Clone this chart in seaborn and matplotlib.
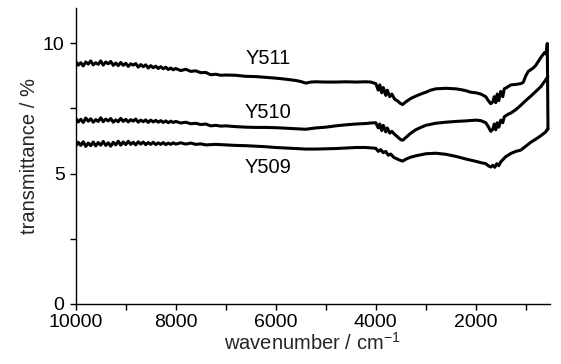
import matplotlib
matplotlib.use("Agg")
import matplotlib.pyplot as plt
from matplotlib.ticker import MultipleLocator
import seaborn as sns
import pandas as pd

# ---- data ----
wn_511 = [10000, 9950, 9900, 9850, 9800, 9750, 9700, 9650, 9600, 9550, 9500, 9450, 9400, 9350,
          9300, 9250, 9200, 9150, 9100, 9050, 9000, 8950, 8900, 8850, 8800, 8750, 8700, 8650,
          8600, 8550, 8500, 8450, 8400, 8350, 8300, 8250, 8200, 8150, 8100, 8050, 8000,
          7900, 7800, 7700, 7600, 7500, 7400, 7300, 7200, 7100, 7000, 6800,
          6600, 6400, 6200, 6000, 5800, 5600, 5500, 5400, 5300, 5200, 5000, 4800, 4600, 4400,
          4200, 4100, 4000, 3950, 3920, 3880, 3850, 3800, 3770, 3720, 3680, 3620, 3560, 3500,
          3460, 3400, 3300, 3200, 3100, 3000, 2900, 2800, 2600, 2400, 2300, 2200, 2100, 2000,
          1900, 1800, 1750, 1700, 1660, 1630, 1600, 1570, 1540, 1500, 1460, 1430, 1380, 1300,
          1200, 1100, 1050, 1000, 950, 850, 800, 700, 620, 590, 570, 556]
y_511 = [9.30, 9.16, 9.25, 9.13, 9.28, 9.20, 9.32, 9.17, 9.25, 9.19, 9.32, 9.16, 9.28, 9.21,
         9.30, 9.15, 9.24, 9.14, 9.26, 9.15, 9.23, 9.11, 9.21, 9.16, 9.22, 9.08, 9.18, 9.10,
         9.17, 9.05, 9.14, 9.06, 9.12, 9.03, 9.10, 9.02, 9.08, 8.99, 9.05, 8.98, 9.03,
         8.95, 9.00, 8.92, 8.94, 8.87, 8.88, 8.79, 8.81, 8.77, 8.78, 8.77,
         8.73, 8.72, 8.69, 8.66, 8.62, 8.57, 8.53, 8.47, 8.51, 8.52, 8.51, 8.51, 8.52, 8.51,
         8.52, 8.51, 8.45, 8.20, 8.40, 8.10, 8.30, 8.00, 8.20, 7.95, 8.05, 7.85, 7.78, 7.68,
         7.65, 7.75, 7.88, 7.97, 8.05, 8.12, 8.20, 8.25, 8.27, 8.25, 8.22, 8.18, 8.12, 8.10,
         8.05, 7.95, 7.80, 7.68, 7.75, 7.95, 7.72, 8.05, 7.80, 8.15, 7.95, 8.25, 8.30, 8.40,
         8.42, 8.45, 8.50, 8.75, 8.92, 9.05, 9.15, 9.45, 9.65, 9.58, 9.99, 6.70]

wn_510 = [10000, 9950, 9900, 9850, 9800, 9750, 9700, 9650, 9600, 9550, 9500, 9450, 9400, 9350,
          9300, 9250, 9200, 9150, 9100, 9050, 9000, 8950, 8900, 8850, 8800, 8750, 8700, 8650,
          8600, 8550, 8500, 8450, 8400, 8350, 8300, 8250, 8200, 8150, 8100, 8050, 8000,
          7900, 7800, 7700, 7600, 7500, 7400, 7300, 7200, 7100, 7000, 6800,
          6600, 6400, 6200, 6000, 5800, 5600, 5400, 5200, 5000, 4800, 4600, 4400, 4200, 4100,
          4000, 3950, 3920, 3880, 3850, 3800, 3770, 3720, 3680, 3620, 3560, 3500, 3460, 3400,
          3300, 3200, 3100, 3000, 2800, 2600, 2400, 2200, 2000, 1900, 1800, 1750, 1700, 1660,
          1630, 1600, 1570, 1540, 1500, 1460, 1430, 1350, 1300, 1200, 1100, 1000, 900, 800,
          700, 600, 560]
y_510 = [7.12, 6.98, 7.08, 6.96, 7.13, 7.01, 7.10, 6.97, 7.07, 7.00, 7.14, 6.99, 7.09, 7.02,
         7.11, 6.97, 7.06, 6.99, 7.12, 7.00, 7.08, 6.98, 7.07, 7.01, 7.09, 6.97, 7.05, 6.99,
         7.06, 6.96, 7.05, 6.98, 7.04, 6.97, 7.03, 6.96, 7.02, 6.95, 7.01, 6.96, 7.00,
         6.94, 6.97, 6.91, 6.93, 6.88, 6.90, 6.83, 6.85, 6.82, 6.83, 6.80,
         6.78, 6.77, 6.77, 6.76, 6.74, 6.72, 6.70, 6.75, 6.78, 6.83, 6.87, 6.90, 6.92, 6.94,
         6.95, 6.75, 6.90, 6.65, 6.85, 6.60, 6.75, 6.55, 6.62, 6.50, 6.40, 6.30, 6.28, 6.38,
         6.55, 6.68, 6.77, 6.85, 6.93, 6.97, 7.00, 7.02, 7.05, 7.03, 6.95, 6.80, 6.62, 6.70,
         6.90, 6.68, 6.95, 6.78, 7.05, 6.95, 7.18, 7.28, 7.32, 7.45, 7.62, 7.80, 7.97, 8.15,
         8.33, 8.60, 8.72]

wn_509 = [10000, 9950, 9900, 9850, 9800, 9750, 9700, 9650, 9600, 9550, 9500, 9450, 9400, 9350,
          9300, 9250, 9200, 9150, 9100, 9050, 9000, 8950, 8900, 8850, 8800, 8750, 8700, 8650,
          8600, 8550, 8500, 8450, 8400, 8350, 8300, 8250, 8200, 8150, 8100, 8050, 8000,
          7900, 7800, 7700, 7600, 7500, 7400, 7200, 7000, 6800, 6600,
          6400, 6200, 6000, 5800, 5600, 5400, 5200, 5000, 4800, 4600, 4400, 4200, 4000, 3950,
          3900, 3850, 3800, 3750, 3700, 3640, 3560, 3500, 3460, 3400, 3300, 3200, 3000, 2800,
          2600, 2400, 2200, 2000, 1900, 1800, 1750, 1700, 1660, 1620, 1580, 1540, 1500, 1450,
          1400, 1300, 1200, 1100, 1000, 900, 800, 700, 600, 560]
y_509 = [6.05, 6.20, 6.08, 6.22, 6.04, 6.17, 6.07, 6.21, 6.06, 6.19, 6.09, 6.23, 6.08, 6.18,
         6.05, 6.20, 6.10, 6.24, 6.09, 6.21, 6.11, 6.24, 6.12, 6.20, 6.10, 6.22, 6.13, 6.21,
         6.11, 6.19, 6.12, 6.20, 6.11, 6.18, 6.12, 6.19, 6.11, 6.17, 6.12, 6.18, 6.13,
         6.18, 6.13, 6.17, 6.12, 6.14, 6.10, 6.12, 6.10, 6.08, 6.07,
         6.05, 6.03, 6.00, 5.98, 5.96, 5.94, 5.94, 5.95, 5.96, 5.98, 6.00, 6.00, 5.97, 5.85,
         5.92, 5.80, 5.85, 5.70, 5.75, 5.62, 5.55, 5.50, 5.48, 5.55, 5.63, 5.68, 5.76, 5.78,
         5.74, 5.66, 5.56, 5.47, 5.42, 5.38, 5.30, 5.25, 5.32, 5.24, 5.38, 5.30, 5.45, 5.55,
         5.65, 5.77, 5.85, 5.90, 6.05, 6.20, 6.32, 6.45, 6.60, 6.73]

labels = ["Y511", "Y510", "Y509"]
label_x = [6154, 6154, 6154]
label_y = [9.22, 7.15, 5.01]

x_ticks = [10000, 8000, 6000, 4000, 2000]
y_ticks = [0, 5, 10]

# ---- plot ----
sns.set_style("ticks")
plt.rcParams["font.family"] = ["Liberation Sans", "DejaVu Sans"]
plt.rcParams["mathtext.default"] = "regular"

fig = plt.figure(figsize=(5.61, 3.64), dpi=100)
ax = fig.add_axes([0.135, 0.165, 0.845, 0.813])

series = [(wn_511, y_511), (wn_510, y_510), (wn_509, y_509)]
for name, (wx, wy) in zip(labels, series):
    df = pd.DataFrame({"wn": wx, "T": wy})
    sns.lineplot(data=df, x="wn", y="T", ax=ax, color="black", lw=2.2,
                 sort=False, estimator=None)

for t, lx, ly in zip(labels, label_x, label_y):
    ax.text(lx, ly, t, ha="center", va="baseline", fontsize=14.5, color="black")

ax.set_xlim(10000, 520)
ax.set_ylim(0, 11.35)
ax.set_xticks(x_ticks)
ax.set_yticks(y_ticks)
ax.xaxis.set_minor_locator(MultipleLocator(1000))
ax.yaxis.set_minor_locator(MultipleLocator(2.5))
ax.tick_params(which="both", direction="out", length=4, width=1.0, color="black",
               labelcolor="black")
ax.tick_params(axis="x", labelsize=14, pad=3)
ax.tick_params(axis="y", labelsize=14, pad=4)
sns.despine(ax=ax)
for s in ["left", "bottom"]:
    ax.spines[s].set_linewidth(1.0)
    ax.spines[s].set_color("black")

ax.set_xlabel("wavenumber / cm$^{-1}$", fontsize=14.5, labelpad=1)
ax.set_ylabel("transmittance / %", fontsize=14.5, labelpad=3)

fig.savefig("out.png", dpi=100)
